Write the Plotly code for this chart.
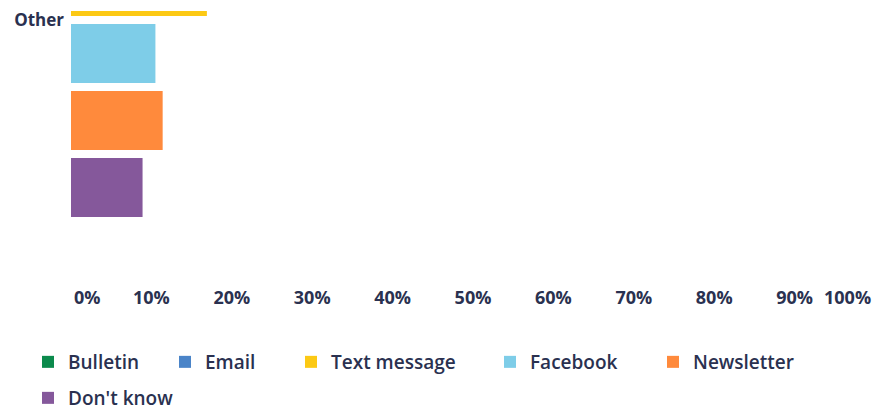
import plotly.graph_objects as go

categories = ["Other"]
series_names = ["Bulletin", "Email", "Text message", "Facebook", "Newsletter", "Don't know"]
bulletin = [None]
email = [None]
text_message = [16.9]
facebook = [10.5]
newsletter = [11.4]
dont_know = [8.9]
tick_values = [0, 10, 20, 30, 40, 50, 60, 70, 80, 90, 100]
tick_labels = ["0%", "10%", "20%", "30%", "40%", "50%", "60%", "70%", "80%", "90%", "100%"]

series_values = [bulletin, email, text_message, facebook, newsletter, dont_know]
colors = ["#0b8a4c", "#4a84c8", "#fcc914", "#7ecde8", "#ff8a3c", "#85589b"]

W, H = 875, 418
TXT = "#2a3150"
FONT = "Open Sans"

# legend text start x (px) and row centre y (px)
leg_pos = [(68, 362), (205, 362), (331, 362), (530, 362), (693, 362), (68, 398)]

fig = go.Figure()
for i, (name, vals, col) in enumerate(zip(series_names, series_values, colors)):
    lid = "legend" if i == 0 else f"legend{i+1}"
    fig.add_trace(go.Bar(
        y=categories, x=vals, name=name, orientation="h",
        marker=dict(color=col, line=dict(width=0)),
        legend=lid, hoverinfo="x+name",
    ))

layout_legends = {}
for i, (tx, ty) in enumerate(leg_pos):
    lid = "legend" if i == 0 else f"legend{i+1}"
    layout_legends[lid] = dict(
        xref="container", yref="container",
        x=(tx - 40) / W, y=1 - ty / H, xanchor="left", yanchor="middle",
        orientation="h", bgcolor="rgba(0,0,0,0)",
        font=dict(family=FONT, size=19, color=TXT, weight=600),
        itemclick=False, itemdoubleclick=False,
    )

mt, plot_bottom = 11, 285
U = 67 * 6 / 0.8
r_top = -(20 - mt) / U
r_bot = r_top + (plot_bottom - mt) / U

TICKFONT = dict(family=FONT, size=18, color=TXT, weight=700)

fig.update_layout(
    width=W, height=H,
    margin=dict(l=71, r=0, t=mt, b=H - plot_bottom),
    paper_bgcolor="white", plot_bgcolor="white",
    barmode="group", bargap=0.2, bargroupgap=0.12,
    showlegend=True,
    xaxis=dict(range=[0, 100], tickvals=tick_values[1:-1], ticktext=tick_labels[1:-1],
               showgrid=False, zeroline=False, showline=False, ticks="",
               tickfont=TICKFONT, fixedrange=True),
    yaxis=dict(type="category", range=[r_bot, r_top], showgrid=False, zeroline=False,
               showline=False, ticks="", ticklabelstandoff=6,
               tickfont=dict(family=FONT, size=17, color=TXT, weight=700), fixedrange=True),
    **layout_legends,
)

for v, lab, anc in [(tick_values[0], tick_labels[0], "left"), (tick_values[-1], tick_labels[-1], "right")]:
    fig.add_annotation(x=v, y=0, xref="x", yref="paper", text=lab, showarrow=False,
                       xanchor=anc, yanchor="middle", yshift=-12, xshift=1 if anc == "left" else -2,
                       font=TICKFONT)

fig.write_html("out.html", config={"displayModeBar": False},
               post_script="document.body.style.margin='0';document.body.style.padding='0';")
